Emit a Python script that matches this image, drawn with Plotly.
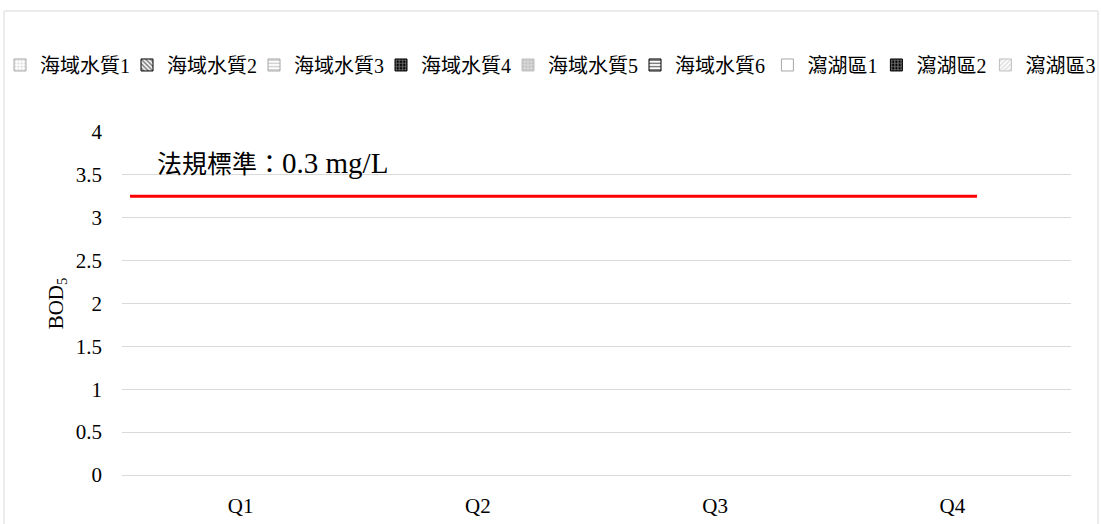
import plotly.graph_objects as go

# quarters on the x axis
quarters = ["Q1", "Q2", "Q3", "Q4"]

# series names (no measured values shown in the chart)
series_names = ["海域水質1", "海域水質2", "海域水質3", "海域水質4", "海域水質5",
                "海域水質6", "瀉湖區1", "瀉湖區2", "瀉湖區3"]
series_values = [
    [None, None, None, None],
    [None, None, None, None],
    [None, None, None, None],
    [None, None, None, None],
    [None, None, None, None],
    [None, None, None, None],
    [None, None, None, None],
    [None, None, None, None],
    [None, None, None, None],
]
# which legend box each series goes to (sea sites / lagoon sites)
series_legend = ["legend"] * 6 + ["legend2"] * 3

# regulatory standard line
standard_value = 3.25
label_text = "法規標準："
label_value = "0.3 mg/L"

# legend swatch looks (pattern shape, background, foreground, outline)
styles = [
    (".", "white", "#bfbfbf", "#a6a6a6"),
    ("\\", "white", "black", "black"),
    ("-", "white", "#a6a6a6", "#a6a6a6"),
    ("+", "black", "white", "black"),
    (".", "#d9d9d9", "#a6a6a6", "#bfbfbf"),
    ("-", "white", "black", "black"),
    ("", "white", "white", "#a6a6a6"),
    ("+", "black", "white", "black"),
    ("/", "white", "#bfbfbf", "#bfbfbf"),
]

FONT = "Liberation Serif, Times New Roman, Noto Sans CJK TC, serif"

fig = go.Figure()
for i, (name, vals, lg, (shape, bg, fg, ln)) in enumerate(
        zip(series_names, series_values, series_legend, styles)):
    fig.add_trace(go.Bar(
        x=quarters, y=vals, name=name, showlegend=True, legend=lg,
        # last entry of each legend box gets room for its full text
        legendwidth=100 if i in (5, 8) else None,
        marker=dict(color=bg, line=dict(color=ln, width=1),
                    pattern=dict(shape=shape, bgcolor=bg, fgcolor=fg,
                                 solidity=0.5, size=4)),
    ))

grid = "#d9d9d9"
leg_common = dict(orientation="h", xref="container", yref="container",
                  xanchor="left", y=0.876, yanchor="middle",
                  font=dict(size=20), itemwidth=30, tracegroupgap=0,
                  entrywidthmode="pixels", bgcolor="rgba(0,0,0,0)")

fig.update_layout(
    width=1101, height=524,
    margin=dict(l=122, r=30, t=132, b=49),
    paper_bgcolor="white", plot_bgcolor="white",
    font=dict(family=FONT, size=21, color="black"),
    showlegend=True,
    legend=dict(leg_common, x=0.0, entrywidth=82),
    legend2=dict(leg_common, x=0.697, entrywidth=64),
    bargap=0.3,
    xaxis=dict(showgrid=False, showline=False, zeroline=False, automargin=False,
               ticklabelstandoff=16, tickfont=dict(size=21)),
    yaxis=dict(range=[0, 4], dtick=0.5, showgrid=True, gridcolor=grid,
               gridwidth=1, zeroline=True, zerolinecolor=grid, zerolinewidth=1,
               showline=False, automargin=False, ticklabelstandoff=19,
               tickfont=dict(size=21),
               title=dict(text="BOD<sub>5</sub>", font=dict(size=21), standoff=6)),
    shapes=[
        # outer chart border
        dict(type="rect", xref="paper", yref="paper",
             x0=-0.1243, x1=1.0285, y0=-0.3, y1=1.3528,
             line=dict(color=grid, width=1), fillcolor="rgba(0,0,0,0)", layer="below"),
        # standard line
        dict(type="line", xref="paper", yref="y",
             x0=0.0084, x1=0.901, y0=standard_value, y1=standard_value,
             line=dict(color="#ff0000", width=3)),
    ],
    annotations=[
        dict(text=label_text + '<span style="font-size:29px">' + label_value + "</span>",
             xref="paper", yref="y",
             x=0.0348, y=3.64, xanchor="left", yanchor="middle",
             showarrow=False, font=dict(size=25, color="black")),
    ],
)

fig.write_html("out.html", config={"displayModeBar": False},
               post_script="document.body.style.margin='0px';")
